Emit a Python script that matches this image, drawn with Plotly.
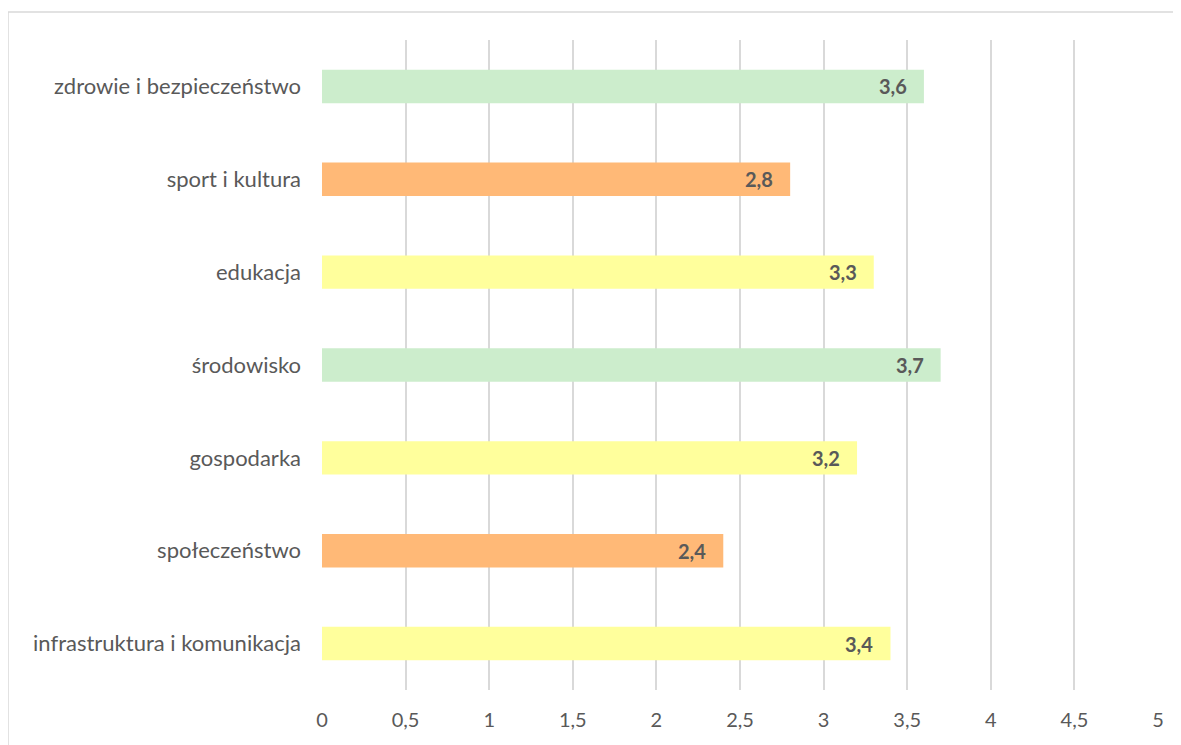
import plotly.graph_objects as go

categories = ["infrastruktura i komunikacja", "społeczeństwo", "gospodarka",
              "środowisko", "edukacja", "sport i kultura", "zdrowie i bezpieczeństwo"]
values = [3.4, 2.4, 3.2, 3.7, 3.3, 2.8, 3.6]
colors = ["#FFFF9C", "#FFB977", "#FFFF9C", "#CCEDCC", "#FFFF9C", "#FFB977", "#CCEDCC"]
tick_vals = [0, 0.5, 1, 1.5, 2, 2.5, 3, 3.5, 4, 4.5, 5]
tick_text = ["0", "0,5", "1", "1,5", "2", "2,5", "3", "3,5", "4", "4,5", "5"]

FONT = "Lato"

fig = go.Figure(go.Bar(
    y=categories, x=values, orientation="h",
    marker=dict(color=colors, line=dict(width=0)),
    hoverinfo="skip",
))

for c, v in zip(categories, values):
    fig.add_annotation(x=v, y=c, text="<b>" + f"{v:.1f}".replace(".", ",") + "</b>",
                       showarrow=False, xanchor="right", xshift=-15,
                       font=dict(family=FONT, size=20, color="#595959"))

fig.update_layout(
    width=1181, height=745,
    margin=dict(l=314, r=31, t=32, b=63),
    paper_bgcolor="white", plot_bgcolor="white",
    bargap=0.64,
    showlegend=False,
    font=dict(family=FONT, color="#595959"),
    xaxis=dict(range=[0, 5], tickvals=tick_vals, ticktext=tick_text,
               showgrid=True, gridcolor="#D9D9D9", gridwidth=1.5,
               zeroline=False, showline=False, ticks="",
               tickfont=dict(family=FONT, size=20, color="#595959"),
               ticklabelstandoff=16, fixedrange=True),
    yaxis=dict(categoryorder="array", categoryarray=categories,
               showgrid=False, zeroline=False, showline=False, ticks="",
               tickfont=dict(family=FONT, size=22, color="#595959"),
               ticklabelstandoff=20, fixedrange=True),
    shapes=[dict(type="rect", xref="paper", yref="paper",
                 x0=(8 - 322) / 836, x1=1.2, y0=-0.3, y1=(690 - 12) / 650,
                 line=dict(color="#D9D9D9", width=1.5), fillcolor="rgba(0,0,0,0)",
                 layer="below")],
)

fig.write_html("out.html")
